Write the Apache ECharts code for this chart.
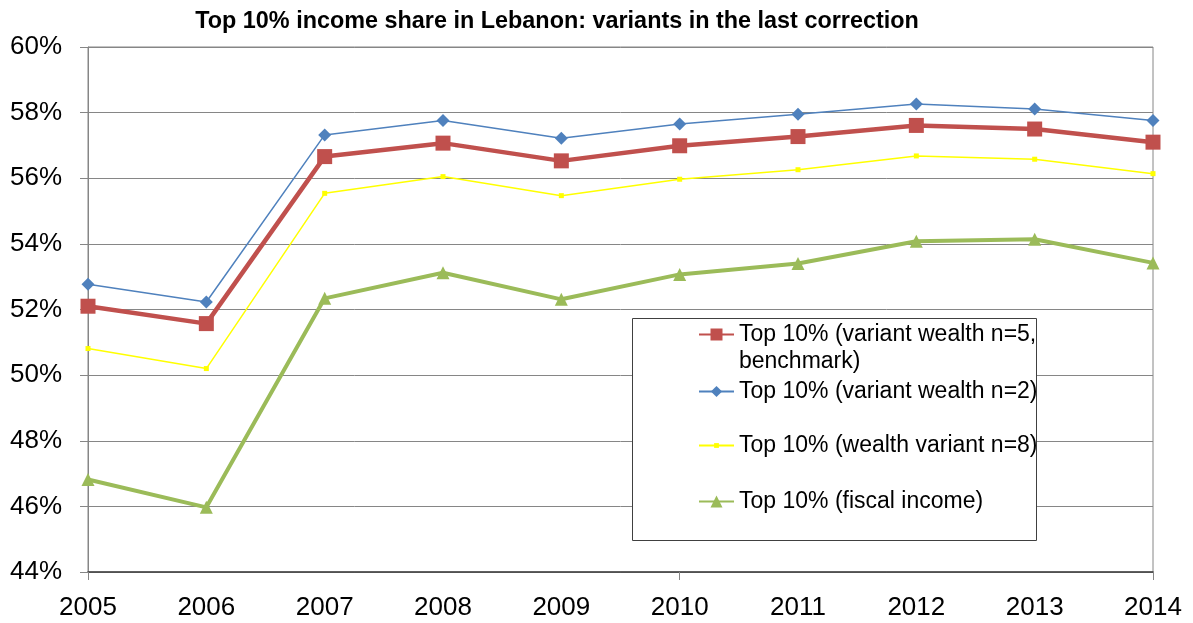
<!DOCTYPE html>
<html>
<head>
<meta charset="utf-8">
<script src="https://cdn.jsdelivr.net/npm/echarts@6/dist/echarts.min.js"></script>
<style>
  html, body { margin: 0; padding: 0; background: #fff; }
  #chart { width: 1193px; height: 623px; }
</style>
</head>
<body>
<div id="chart"></div>
<script>
// --- data ---
const years = ["2005", "2006", "2007", "2008", "2009", "2010", "2011", "2012", "2013", "2014"];
const benchmark = [52.10, 51.57, 56.66, 57.07, 56.53, 56.99, 57.27, 57.61, 57.50, 57.10];
const wealthN2 = [52.77, 52.23, 57.32, 57.76, 57.22, 57.65, 57.95, 58.26, 58.11, 57.76];
const wealthN8 = [50.81, 50.20, 55.54, 56.05, 55.47, 55.97, 56.26, 56.68, 56.58, 56.14];
const fiscal = [46.82, 45.97, 52.34, 53.12, 52.31, 53.07, 53.40, 54.08, 54.14, 53.42];

const names = [
  "Top 10% (variant wealth n=5,\nbenchmark)",
  "Top 10% (variant wealth n=2)",
  "Top 10% (wealth variant n=8)",
  "Top 10% (fiscal income)"
];

const font = "'Liberation Sans', Arial, sans-serif";
const chart = echarts.init(document.getElementById("chart"));

// one legend per entry so each row can sit where the original has it
const legendTops = [294, 378, 432, 488];
const iconHeights = [15, 14, 6, 15];
const legends = names.map((n, i) => ({
  data: [n],
  orient: "vertical",
  left: 698,
  top: legendTops[i],
  padding: 0,
  z: 10,
  itemWidth: 35,
  itemHeight: iconHeights[i],
  selectedMode: false,
  // first entry wraps: a blank leading line keeps its first line level with the icon
  formatter: i === 0 ? name => " \n" + name : "{name}",
  textStyle: { fontFamily: font, fontSize: 23, color: "#000", lineHeight: 27 }
}));

const option = {
  animation: false,
  title: {
    text: "Top 10% income share in Lebanon: variants in the last correction",
    left: 552,
    textAlign: "center",
    top: 5,
    textStyle: { fontFamily: font, fontSize: 23.4, fontWeight: "bold", color: "#000" }
  },
  legend: legends,
  graphic: [{
    type: "rect",
    shape: { x: 632.5, y: 318.5, width: 404, height: 222 },
    style: { fill: "#fff", stroke: "#404040", lineWidth: 1 },
    z: 1
  }],
  grid: {
    left: 88, right: 40, top: 47, bottom: 51,
    show: true, borderColor: "#868686", borderWidth: 1
  },
  xAxis: {
    type: "category",
    data: years,
    boundaryGap: false,
    axisLine: { lineStyle: { color: "#404040", width: 1.5 } },
    axisTick: { show: true, interval: 4, length: 8, lineStyle: { color: "#868686" } },
    axisLabel: { fontFamily: font, fontSize: 26, color: "#000", margin: 23, interval: 0 }
  },
  yAxis: {
    type: "value",
    min: 44, max: 60, interval: 2,
    axisLine: { show: true, lineStyle: { color: "#868686" } },
    axisTick: { show: true, length: 8, lineStyle: { color: "#868686" } },
    axisLabel: { fontFamily: font, fontSize: 26, color: "#000", margin: 26, formatter: v => v + "%" },
    splitLine: { lineStyle: { color: "#868686", width: 1 } }
  },
  series: [
    {
      name: names[0], type: "line", data: benchmark,
      symbol: "rect", symbolSize: 15,
      lineStyle: { color: "#C0504D", width: 4.5 },
      itemStyle: { color: "#C0504D" }, z: 4
    },
    {
      name: names[1], type: "line", data: wealthN2,
      symbol: "diamond", symbolSize: 13,
      lineStyle: { color: "#4F81BD", width: 1.5 },
      itemStyle: { color: "#4F81BD" }, z: 3
    },
    {
      name: names[2], type: "line", data: wealthN8,
      symbol: "rect", symbolSize: 5,
      lineStyle: { color: "#FFFF00", width: 1.5 },
      itemStyle: { color: "#FFFF00" }, z: 2
    },
    {
      name: names[3], type: "line", data: fiscal,
      symbol: "triangle", symbolSize: 13,
      lineStyle: { color: "#9BBB59", width: 4 },
      itemStyle: { color: "#9BBB59" }, z: 2
    }
  ]
};

chart.setOption(option);
</script>
</body>
</html>
